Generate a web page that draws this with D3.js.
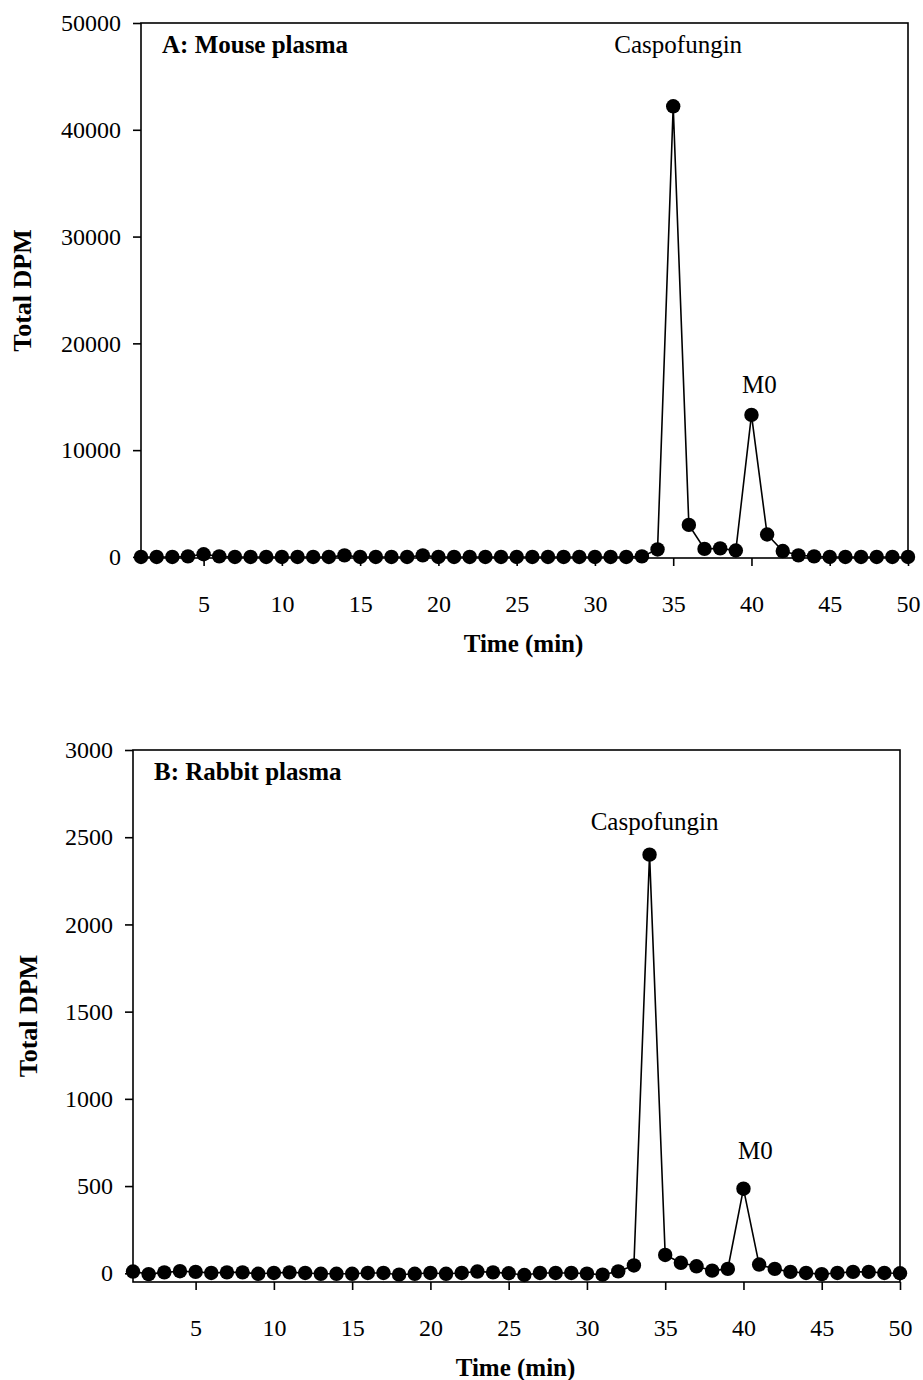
<!DOCTYPE html>
<html>
<head>
<meta charset="utf-8">
<script src="https://cdn.jsdelivr.net/npm/d3@7"></script>
<style>
  html, body { margin: 0; padding: 0; background: #fff; }
  svg { display: block; }
  text { font-family: "Liberation Serif", "Times New Roman", "DejaVu Serif", serif; fill: #000; }
</style>
</head>
<body>
<svg id="chart" width="923" height="1380"></svg>
<script>
// ---- Data ----
const time = d3.range(1, 51); // 1..50 min
const mouseDPM = [
  0, 0, 0, 50, 250, 50, 0, 0, 0, 0,
  0, 0, 0, 150, 0, 0, 0, 0, 150, 0,
  0, 0, 0, 0, 0, 0, 0, 0, 0, 0,
  0, 0, 50, 700, 42200, 3000, 750, 800, 600, 13300,
  2100, 550, 150, 50, 0, 0, 0, 0, 0, 0
];
const rabbitDPM = [
  10, -5, 5, 12, 8, 2, 5, 5, -3, 2,
  5, 2, -3, -3, -3, 2, 2, -8, -3, 2,
  -3, 2, 10, 5, 0, -10, 2, 2, 2, -2,
  -8, 11, 45, 2400, 105, 60, 40, 15, 25, 485,
  50, 25, 8, 2, -5, 2, 8, 8, 2, 0
];
const xTicks = [5, 10, 15, 20, 25, 30, 35, 40, 45, 50];
const yTicksA = [0, 10000, 20000, 30000, 40000, 50000];
const yTicksB = [0, 500, 1000, 1500, 2000, 2500, 3000];
const panelTitles = ["A: Mouse plasma", "B: Rabbit plasma"];
const peakLabels = ["Caspofungin", "M0"];
const peakTimesA = [35, 40];
const peakTimesB = [34, 40];
const xTitle = "Time (min)";
const yTitle = "Total DPM";

// ---- Drawing ----
const svg = d3.select("#chart");
const FS_TICK = 24;
const FS_LABEL = 25;
const FS_BOLD = 25;
const FS_YTITLE = 26;

function panel(cfg) {
  const x = d3.scaleLinear().domain([1, 50]).range([cfg.left, cfg.right]);
  const y = d3.scaleLinear().domain(cfg.yDomain).range([cfg.bottom, cfg.top]);
  const g = svg.append("g");

  // frame
  g.append("rect")
    .attr("x", cfg.left).attr("y", cfg.top)
    .attr("width", cfg.right - cfg.left).attr("height", cfg.bottom - cfg.top)
    .attr("fill", "none").attr("stroke", "#000").attr("stroke-width", 1.6);

  // x axis
  const xAxis = d3.axisBottom(x).tickValues(xTicks).tickSize(8).tickPadding(29).tickFormat(d3.format("d"));
  const gx = g.append("g").attr("transform", `translate(0,${cfg.bottom})`).call(xAxis);
  gx.select(".domain").remove();
  gx.selectAll("line").attr("stroke", "#000").attr("stroke-width", 1.6);
  gx.selectAll("text").style("font-size", FS_TICK + "px").style("font-family", '"Liberation Serif", serif');

  // y axis
  const yAxis = d3.axisLeft(y).tickValues(cfg.yTicks).tickSize(8).tickPadding(12).tickFormat(d3.format("d"));
  const gy = g.append("g").attr("transform", `translate(${cfg.left},0)`).call(yAxis);
  gy.select(".domain").remove();
  gy.selectAll("line").attr("stroke", "#000").attr("stroke-width", 1.6);
  gy.selectAll("text").style("font-size", FS_TICK + "px").style("font-family", '"Liberation Serif", serif');

  // line
  const line = d3.line().x((d, i) => x(time[i])).y(d => y(d));
  g.append("path").datum(cfg.values)
    .attr("d", line).attr("fill", "none").attr("stroke", "#000").attr("stroke-width", 1.6);

  // dots
  g.selectAll("circle.pt").data(cfg.values).enter().append("circle")
    .attr("class", "pt")
    .attr("cx", (d, i) => x(time[i])).attr("cy", d => y(d)).attr("r", 7.2)
    .attr("fill", "#000");

  // titles
  g.append("text").attr("x", cfg.left + 21).attr("y", cfg.top + 30)
    .style("font-size", FS_BOLD + "px").style("font-weight", "bold").text(cfg.title);

  g.append("text").attr("x", (cfg.left + cfg.right) / 2 - 1).attr("y", cfg.bottom + 94)
    .attr("text-anchor", "middle").style("font-size", FS_BOLD + "px").style("font-weight", "bold").text(xTitle);

  g.append("text")
    .attr("transform", `translate(${cfg.yTitleX},${(cfg.top + cfg.bottom) / 2}) rotate(-90)`)
    .attr("text-anchor", "middle").style("font-size", FS_YTITLE + "px").style("font-weight", "bold").text(yTitle);

  // peak labels
  cfg.peakTimes.forEach((t, k) => {
    const v = cfg.values[time.indexOf(t)];
    g.append("text").attr("x", x(t) + cfg.labelDx[k]).attr("y", y(v) - cfg.labelDy[k])
      .attr("text-anchor", "middle").style("font-size", FS_LABEL + "px").text(peakLabels[k]);
  });
}

panel({
  left: 141, right: 908, top: 23, bottom: 558,
  yDomain: [-100, 50000], yTicks: yTicksA, values: mouseDPM,
  title: panelTitles[0], peakTimes: peakTimesA, yTitleX: 31,
  labelDx: [5, 8], labelDy: [53, 22]
});
panel({
  left: 133, right: 900, top: 750, bottom: 1282,
  yDomain: [-50, 3000], yTicks: yTicksB, values: rabbitDPM,
  title: panelTitles[1], peakTimes: peakTimesB, yTitleX: 37,
  labelDx: [5, 12], labelDy: [25, 30]
});
</script>
</body>
</html>
